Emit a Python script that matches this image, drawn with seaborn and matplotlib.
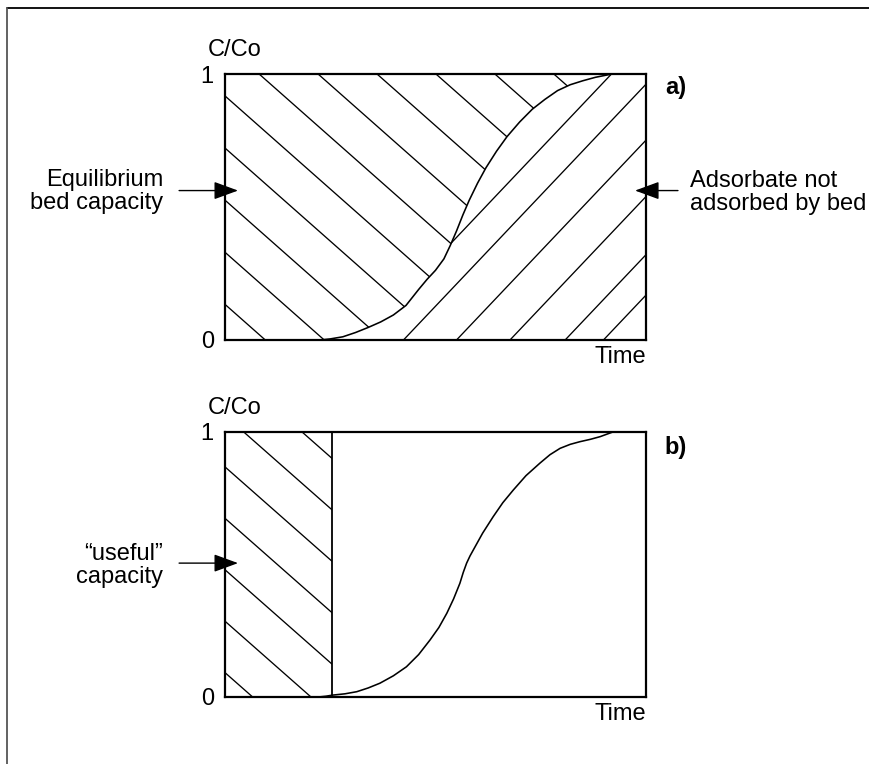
import numpy as np
import matplotlib
matplotlib.use("Agg")
import matplotlib.pyplot as plt
from matplotlib.patches import Polygon
from matplotlib.lines import Line2D
import seaborn as sns

# breakthrough curves (time normalised 0..1, C/Co)
curve_a_x = [0.226, 0.25, 0.28, 0.31, 0.34, 0.37, 0.40, 0.43, 0.46, 0.48, 0.50,
             0.52, 0.535, 0.55, 0.565, 0.58, 0.60, 0.62, 0.645, 0.67, 0.70,
             0.73, 0.76, 0.79, 0.82, 0.85, 0.88, 0.918]
curve_a_y = [0.0, 0.004, 0.012, 0.028, 0.047, 0.068, 0.094, 0.13, 0.19, 0.228,
             0.262, 0.305, 0.355, 0.41, 0.47, 0.525, 0.59, 0.648, 0.71, 0.765,
             0.82, 0.868, 0.905, 0.938, 0.96, 0.975, 0.988, 1.0]

curve_b_x = [0.222, 0.24, 0.255, 0.285, 0.313, 0.34, 0.368, 0.40, 0.431, 0.46,
             0.487, 0.508, 0.527, 0.543, 0.558, 0.566, 0.574, 0.582, 0.590,
             0.612, 0.637, 0.66, 0.685, 0.715, 0.748, 0.772, 0.796, 0.82,
             0.843, 0.868, 0.891, 0.922]
curve_b_y = [0.0, 0.003, 0.007, 0.012, 0.02, 0.034, 0.052, 0.08, 0.114, 0.16,
             0.215, 0.262, 0.316, 0.37, 0.429, 0.47, 0.505, 0.532, 0.555,
             0.618, 0.680, 0.733, 0.781, 0.835, 0.882, 0.914, 0.938, 0.953,
             0.963, 0.972, 0.982, 1.0]

useful_end = 0.254  # end of the "useful" capacity in panel b

y_ticks = [0, 1]
y_ticklabels = ["0", "1"]
panel_labels = ["a)", "b)"]
left_notes = ["Equilibrium\nbed capacity", "\u201cuseful\u201d\ncapacity"]
right_note = "Adsorbate not\nadsorbed by bed"

# hatching style (hand drawn, so spacing is a bit uneven)
BACK_SLOPE = -1.40
FWD_SLOPE = 1.67
fwd_starts = [0.319, 0.424, 0.550, 0.677, 0.808, 0.899]
fwd_from_y = [0.3, 0, 0, 0, 0, 0]

sns.set_style("white")
plt.rcParams["font.family"] = ["Liberation Sans", "DejaVu Sans"]
plt.rcParams["text.color"] = "black"
plt.rcParams["axes.labelcolor"] = "black"
plt.rcParams["ytick.color"] = "black"
FS = 17
LW = 0.95

fig = plt.figure(figsize=(8.7, 7.64), dpi=100)
ax_a = fig.add_axes([0.2586, 0.555, 0.4839, 0.348])
ax_b = fig.add_axes([0.2586, 0.0877, 0.4839, 0.347])

# frame round the figure (only top and left show)
fig.add_artist(Line2D([0.008, 1.0], [0.9895, 0.9895], color="black", lw=1.3))
fig.add_artist(Line2D([0.008, 0.008], [0.0, 0.9895], color="#555555", lw=1.3))


def hatch(ax, verts, slope, intercepts, x_from=None):
    clip = Polygon(verts, closed=True, facecolor="none", edgecolor="none",
                   transform=ax.transData)
    ax.add_patch(clip)
    if x_from is None:
        x_from = [-1.0] * len(intercepts)
    for c, x0 in zip(intercepts, x_from):
        xs = np.array([x0, 2.0])
        ln, = ax.plot(xs, c + slope * xs, color="black", lw=LW)
        ln.set_clip_path(clip)


def arrow(ax, start, end):
    ax.annotate("", xy=end, xytext=start, xycoords="axes fraction",
                arrowprops=dict(arrowstyle="-|>,head_length=1.5,head_width=0.55",
                                color="black", lw=1.0, shrinkA=0, shrinkB=0,
                                mutation_scale=10),
                annotation_clip=False)


def frame(ax, label, label_y):
    ax.set_xlim(0, 1)
    ax.set_ylim(0, 1)
    ax.set_xticks([])
    ax.set_yticks(y_ticks)
    ax.set_yticklabels(y_ticklabels, fontsize=FS)
    ax.tick_params(axis="y", length=0, pad=8)
    for sp in ax.spines.values():
        sp.set_visible(True)
        sp.set_color("black")
        sp.set_linewidth(1.6)
    ax.set_xlabel("Time", loc="right", fontsize=FS, labelpad=4)
    ax.set_ylabel("")
    ax.text(-0.04, 1.09, "C/Co", transform=ax.transAxes, fontsize=FS,
            ha="left", va="center")
    ax.text(1.045, label_y, label, transform=ax.transAxes, fontsize=FS,
            fontweight="bold", ha="left", va="center")


# ---- panel a
pts_a = list(zip(curve_a_x, curve_a_y))
upper = [(0, 0)] + pts_a + [(0, 1)]
lower = pts_a + [(1, 1), (1, 0)]
hatch(ax_a, upper, BACK_SLOPE, 0.134 + 0.196 * np.arange(0, 12))
hatch(ax_a, lower, FWD_SLOPE, [-FWD_SLOPE * s for s in fwd_starts],
      [s + y / FWD_SLOPE for s, y in zip(fwd_starts, fwd_from_y)])
sns.lineplot(x=curve_a_x, y=curve_a_y, sort=False, color="black", lw=1.15, ax=ax_a)
arrow(ax_a, (-0.109, 0.562), (0.031, 0.562))
arrow(ax_a, (1.076, 0.562), (0.974, 0.562))
ax_a.text(-0.147, 0.56, left_notes[0], transform=ax_a.transAxes, fontsize=FS,
          ha="right", va="center", multialignment="right", linespacing=1.05)
ax_a.text(1.105, 0.555, right_note, transform=ax_a.transAxes, fontsize=FS,
          ha="left", va="center", multialignment="left", linespacing=1.05)
frame(ax_a, panel_labels[0], 0.95)

# ---- panel b
rect = [(0, 0), (useful_end, 0), (useful_end, 1), (0, 1)]
hatch(ax_b, rect, BACK_SLOPE, 0.092 + 0.194 * np.arange(0, 8))
ax_b.plot([useful_end, useful_end], [0, 1], color="black", lw=1.3)
sns.lineplot(x=curve_b_x, y=curve_b_y, sort=False, color="black", lw=1.15, ax=ax_b)
arrow(ax_b, (-0.109, 0.505), (0.031, 0.505))
ax_b.text(-0.147, 0.496, left_notes[1], transform=ax_b.transAxes, fontsize=FS,
          ha="right", va="center", multialignment="right", linespacing=1.05)
frame(ax_b, panel_labels[1], 0.943)

fig.savefig("out.png", dpi=100, facecolor="white")
